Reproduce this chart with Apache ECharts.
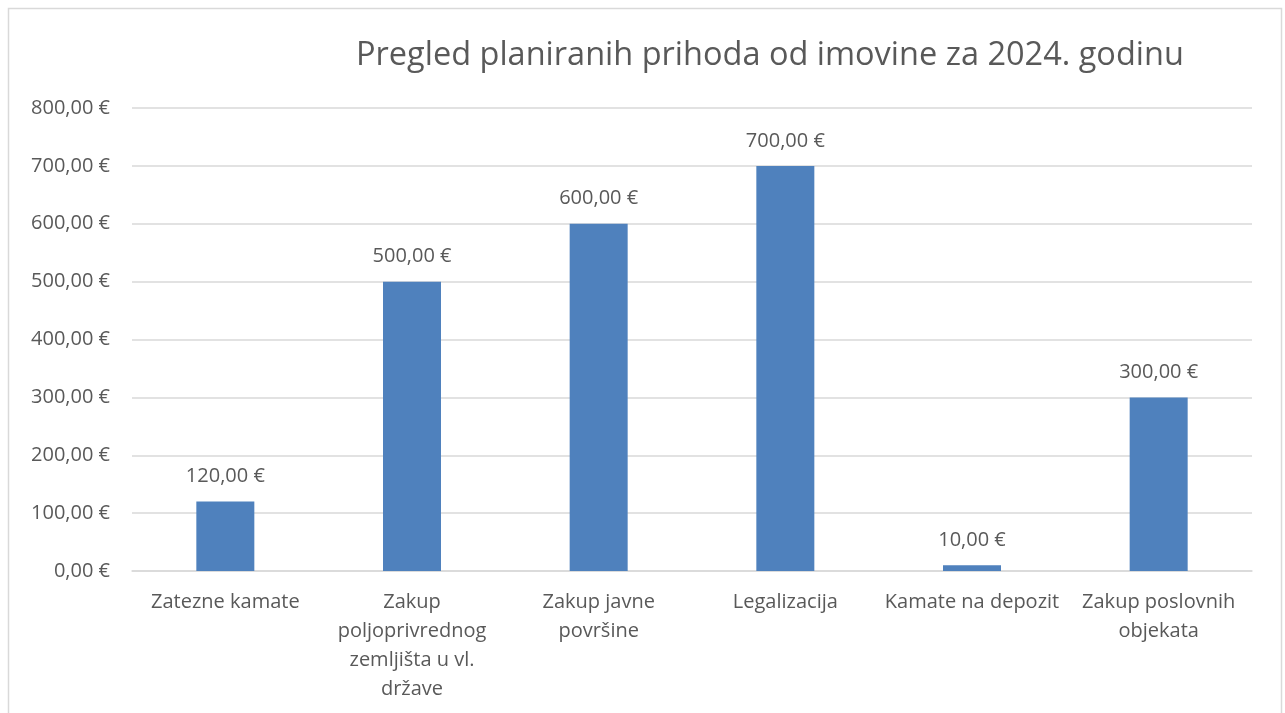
<!DOCTYPE html>
<html>
<head>
<meta charset="utf-8">
<script src="https://cdn.jsdelivr.net/npm/echarts@6/dist/echarts.min.js"></script>
<style>
  html, body { margin: 0; padding: 0; background: #fff; }
  #chart { width: 1285px; height: 713px; }
</style>
</head>
<body>
<div id="chart"></div>
<script>
// podaci s grafikona
var categories = [
    'Zatezne kamate',
    'Zakup\npoljoprivrednog\nzemljišta u vl.\ndržave',
    'Zakup javne\npovršine',
    'Legalizacija',
    'Kamate na depozit',
    'Zakup poslovnih\nobjekata'
];
var values = [120, 500, 600, 700, 10, 300];
var yTicks = [0, 100, 200, 300, 400, 500, 600, 700, 800];

var FONT = '"Open Sans", "Noto Sans", sans-serif';
var TEXT = '#595959';
var SIZE = 20;

function euro(v) {
    return v.toFixed(2).replace('.', ',') + ' €';
}

var chart = echarts.init(document.getElementById('chart'));
chart.setOption({
    animation: false,
    textStyle: {fontFamily: FONT},
    title: {
        text: 'Pregled planiranih prihoda od imovine za 2024. godinu',
        left: 351,
        top: 34,
        textStyle: {fontFamily: FONT, fontSize: 32.5, fontWeight: 'normal', color: TEXT}
    },
    graphic: [{
        type: 'rect',
        shape: {x: 8.5, y: 8.5, width: 1273, height: 720},
        style: {fill: 'none', stroke: '#d9d9d9', lineWidth: 1.5},
        silent: true
    }],
    grid: {left: 132, right: 33, top: 108, bottom: 142},
    xAxis: {
        type: 'category',
        data: categories,
        axisLine: {lineStyle: {color: '#d9d9d9', width: 1.5}},
        axisTick: {show: false},
        axisLabel: {
            interval: 0,
            color: TEXT,
            fontSize: SIZE,
            lineHeight: 29,
            margin: 17,
            fontFamily: FONT
        }
    },
    yAxis: {
        type: 'value',
        min: yTicks[0],
        max: yTicks[yTicks.length - 1],
        interval: 100,
        axisLine: {show: false},
        axisTick: {show: false},
        splitLine: {lineStyle: {color: '#d9d9d9', width: 1.5}},
        axisLabel: {
            color: TEXT,
            fontSize: SIZE,
            margin: 22,
            fontFamily: FONT,
            formatter: euro
        }
    },
    series: [{
        type: 'bar',
        data: values,
        barWidth: 58,
        itemStyle: {color: '#4f81bd'},
        label: {
            show: true,
            position: 'top',
            distance: 15,
            color: TEXT,
            fontSize: SIZE,
            fontFamily: FONT,
            formatter: function (p) { return euro(p.value); }
        }
    }]
});
</script>
</body>
</html>
